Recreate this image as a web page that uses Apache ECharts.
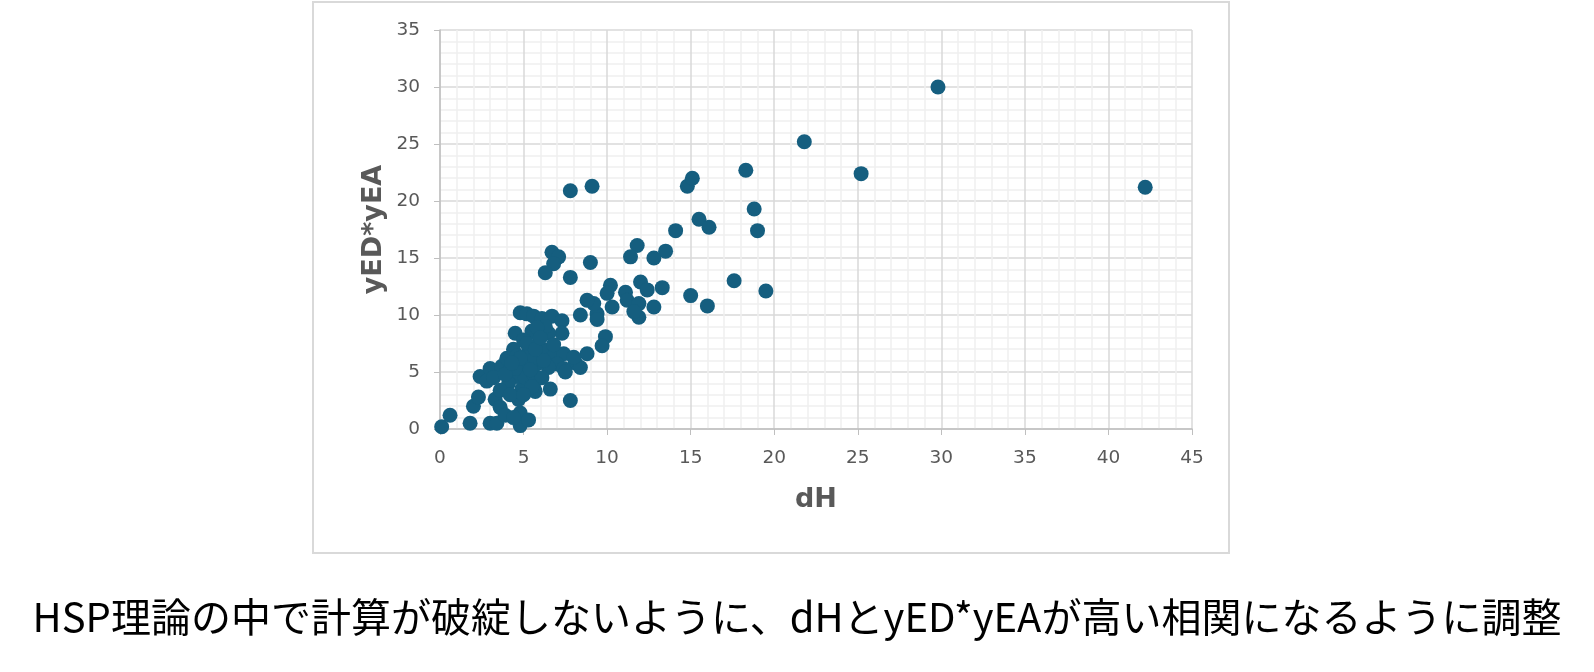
<!DOCTYPE html>
<html>
<head>
<meta charset="utf-8">
<script src="https://cdn.jsdelivr.net/npm/echarts@6/dist/echarts.min.js"></script>
<style>
html,body{margin:0;padding:0;background:#fff;}
#chart{width:1594px;height:672px;}
</style>
</head>
<body>
<div id="chart"></div>
<script>
const xTicks = [0,5,10,15,20,25,30,35,40,45];
const yTicks = [0,5,10,15,20,25,30,35];
const xName = 'dH';
const yName = 'yED*yEA';
const caption = 'HSP理論の中で計算が破綻しないように、dHとyED*yEAが高い相関になるように調整';

const dH = [
  29.8,42.2,25.2,21.8,18.3,18.8,19.0,19.5,17.6,16.0,15.0,15.5,16.1,14.8,15.1,14.1,13.5,13.3,12.8,12.8,
  11.8,11.4,12.0,12.4,11.9,11.1,11.2,11.9,10.2,10.0,10.3,9.4,9.2,8.8,8.4,9.9,9.7,8.8,8.1,8.4,
  7.8,9.1,7.8,9.0,6.7,7.1,6.8,6.3,7.8,11.6,
  0.1,0.6,1.8,3.0,3.4,4.8,4.8,5.3,2.0,2.3,2.4,3.0,2.8,3.3,3.6,3.9,4.4,4.7,4.9,5.6,
  6.6,3.7,4.0,4.4,4.5,4.8,5.2,5.6,6.1,6.7,7.3,7.3,6.5,5.9,5.5,5.0,5.3,5.8,6.3,6.8,
  7.4,7.0,7.4,6.5,5.9,5.5,5.0,4.6,5.1,5.6,6.1,4.1,3.6,4.2,3.2,4.5,5.7,6.2,6.8,6.3,
  5.8,4.6,3.9,5.4,4.8,7.5,8.0,9.4,5.5,5.2,5.7,6.0,4.3,5.0
];
const yEDyEA = [
  30.0,21.2,22.4,25.2,22.7,19.3,17.4,12.1,13.0,10.8,11.7,18.4,17.7,21.3,22.0,17.4,15.6,12.4,10.7,15.0,
  16.1,15.1,12.9,12.2,9.8,12.0,11.3,11.0,12.6,11.9,10.7,10.1,11.0,11.3,10.0,8.1,7.3,6.6,5.8,5.4,
  2.5,21.3,20.9,14.6,15.5,15.1,14.5,13.7,13.3,10.3,
  0.2,1.2,0.5,0.5,0.5,0.3,1.4,0.8,2.0,2.8,4.6,5.3,4.2,2.6,1.9,1.2,1.0,2.6,3.5,3.7,
  3.5,5.5,6.2,7.0,8.4,10.2,10.1,9.9,9.7,9.9,9.5,8.4,8.4,8.2,8.6,7.8,6.9,7.3,6.9,6.4,
  6.6,5.7,5.3,5.4,5.8,6.0,5.5,4.6,4.5,4.8,4.5,4.0,3.4,3.0,4.5,5.3,3.3,6.0,7.4,9.0,
  8.9,6.4,4.8,5.2,6.2,5.0,6.3,9.6,3.7,7.5,7.0,8.0,5.8,3.0
];

const points = dH.map((x, i) => [x, yEDyEA[i]]);

const chart = echarts.init(document.getElementById('chart'), null, {renderer: 'canvas'});
const labelColor = '#595959';
const axisGray = '#bfbfbf';
chart.setOption({
  animation: false,
  backgroundColor: '#ffffff',
  graphic: [
    {type: 'rect', shape: {x: 313, y: 2, width: 916, height: 551},
     style: {fill: 'none', stroke: '#d9d9d9', lineWidth: 2}, z: -10},
    {type: 'text', left: 'center', top: 597,
     style: {text: caption, fill: '#000000', font: '40px "Noto Sans CJK JP", sans-serif'}}
  ],
  grid: {left: 440, right: 402, top: 30, bottom: 243, containLabel: false},
  xAxis: {
    type: 'value', min: xTicks[0], max: xTicks[xTicks.length-1], interval: 5,
    name: xName, nameLocation: 'middle', nameGap: 57,
    nameTextStyle: {color: labelColor, fontSize: 27, fontWeight: 'bold', fontFamily: 'DejaVu Sans'},
    axisLine: {show: true, lineStyle: {color: axisGray, width: 1.5}},
    axisTick: {show: true, length: 6, lineStyle: {color: axisGray}},
    axisLabel: {color: labelColor, fontSize: 18.5, fontFamily: 'DejaVu Sans', margin: 20},
    splitLine: {show: true, lineStyle: {color: '#d9d9d9', width: 1.5}},
    minorTick: {show: false, splitNumber: 5},
    minorSplitLine: {show: true, lineStyle: {color: '#efefef', width: 1.5}}
  },
  yAxis: {
    type: 'value', min: yTicks[0], max: yTicks[yTicks.length-1], interval: 5,
    name: yName, nameLocation: 'middle', nameGap: 53, nameRotate: 90,
    nameTextStyle: {color: labelColor, fontSize: 27, fontWeight: 'bold', fontFamily: 'DejaVu Sans'},
    axisLine: {show: true, lineStyle: {color: axisGray, width: 1.5}},
    axisTick: {show: true, length: 6, lineStyle: {color: axisGray}},
    axisLabel: {color: labelColor, fontSize: 18.5, fontFamily: 'DejaVu Sans', margin: 20},
    splitLine: {show: true, lineStyle: {color: '#d9d9d9', width: 1.5}},
    minorTick: {show: false, splitNumber: 5},
    minorSplitLine: {show: true, lineStyle: {color: '#efefef', width: 1.5}}
  },
  series: [{
    type: 'scatter',
    data: points,
    symbol: 'circle',
    symbolSize: 15,
    itemStyle: {color: '#155e7f', opacity: 1},
    clip: false
  }]
});
</script>
</body>
</html>
